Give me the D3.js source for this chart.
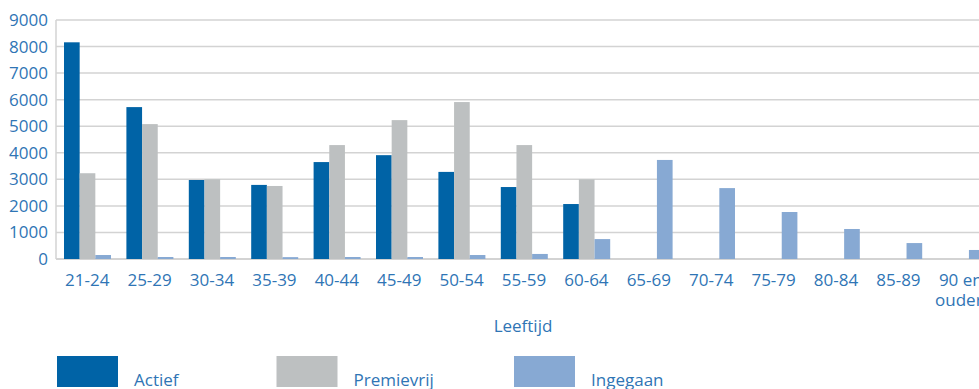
<!DOCTYPE html>
<html>
<head>
<meta charset="utf-8">
<script src="https://cdn.jsdelivr.net/npm/d3@7"></script>
<style>
 body { margin: 0; background: #fff; }
 text { font-family: "Open Sans", "Noto Sans", sans-serif; fill: #2f75b5; }
</style>
</head>
<body>
<svg width="979" height="389"></svg>
<script>
var svg = d3.select("svg"),
 width = +svg.attr("width"),
 height = +svg.attr("height");

// Data
var categories = ["21-24", "25-29", "30-34", "35-39", "40-44", "45-49", "50-54", "55-59",
 "60-64", "65-69", "70-74", "75-79", "80-84", "85-89", "90 en ouder"];
var series = ["Actief", "Premievrij", "Ingegaan"];
var actief = [8160, 5720, 2975, 2790, 3650, 3910, 3280, 2710, 2070, 0, 0, 0, 0, 0, 0];
var premievrij = [3230, 5080, 3000, 2750, 4290, 5230, 5910, 4290, 3000, 0, 0, 0, 0, 0, 0];
var ingegaan = [150, 75, 75, 70, 75, 75, 150, 190, 750, 3730, 2670, 1770, 1130, 600, 340];
var yTicks = [0, 1000, 2000, 3000, 4000, 5000, 6000, 7000, 8000, 9000];
var values = [actief, premievrij, ingegaan];

var colors = ["#0063a6", "#bdc0c1", "#87a9d3"];

var plotLeft = 56, plotTop = 20, plotBottom = 259;

// 15 bands, the last one runs past the right edge like in the reference
var x = d3.scaleBand()
 .domain(categories)
 .range([plotLeft, plotLeft + 15 * 62.4])
 .padding(0);

var x1 = d3.scaleBand()
 .domain(series)
 .range([8, 8 + 47])
 .padding(0);

var y = d3.scaleLinear()
 .domain([0, 9000])
 .range([plotBottom, plotTop]);

var color = d3.scaleOrdinal().domain(series).range(colors);

// grid lines
svg.append("g").selectAll("line")
 .data(yTicks)
 .enter().append("line")
 .attr("x1", plotLeft)
 .attr("x2", width)
 .attr("y1", function(d) { return y(d); })
 .attr("y2", function(d) { return y(d); })
 .attr("stroke", "#d3d3d3")
 .attr("stroke-width", function(d) { return d == 0 ? 2 : 1.5; });

svg.append("line")
 .attr("x1", plotLeft).attr("x2", plotLeft)
 .attr("y1", y(9000)).attr("y2", y(0))
 .attr("stroke", "#d3d3d3")
 .attr("stroke-width", 1.5);

// bars
var groups = svg.append("g").selectAll("g")
 .data(categories)
 .enter().append("g")
 .attr("transform", function(d) { return "translate(" + x(d) + ",0)"; });

groups.selectAll("rect")
 .data(function(d, i) {
   return series.map(function(s, j) { return { key: s, value: values[j][i] }; });
 })
 .enter().append("rect")
 .filter(function(d) { return d.value > 0; })
 .attr("x", function(d) { return x1(d.key); })
 .attr("width", x1.bandwidth())
 .attr("y", function(d) { return y(d.value); })
 .attr("height", function(d) { return y(0) - y(d.value); })
 .attr("fill", function(d) { return color(d.key); });

// y axis labels
var yAxis = svg.append("g")
 .attr("transform", "translate(" + (plotLeft - 8) + ",0)")
 .call(d3.axisLeft(y).tickValues(yTicks).tickSize(0).tickPadding(0).tickFormat(d3.format("d")));
yAxis.select(".domain").remove();
yAxis.selectAll("text")
 .attr("font-size", 17)
 .attr("fill", null);
yAxis.attr("font-family", null).attr("font-size", null);

// x axis labels (wrapped after the first two words)
var xAxis = svg.append("g")
 .attr("transform", "translate(0," + plotBottom + ")")
 .call(d3.axisBottom(x).tickSize(0).tickPadding(0).tickFormat(""));
xAxis.select(".domain").remove();
xAxis.attr("font-family", null).attr("font-size", null);
xAxis.selectAll(".tick").append("text")
 .attr("font-size", 17)
 .attr("text-anchor", "middle")
 .each(function(d) {
   var words = d.split(" ");
   var lines = words.length > 2 ? [words.slice(0, 2).join(" "), words.slice(2).join(" ")] : [d];
   var t = d3.select(this);
   lines.forEach(function(l, i) {
     t.append("tspan").attr("x", i ? -2 : 0).attr("y", 27 + i * 20).text(l);
   });
 });

svg.append("text")
 .attr("x", 523)
 .attr("y", 332)
 .attr("text-anchor", "middle")
 .attr("font-size", 17)
 .text("Leeftijd");

// legend
var lx = d3.scalePoint().domain(series).range([57, 514]).align(0);
var legend = svg.append("g").selectAll("g")
 .data(series)
 .enter().append("g")
 .attr("transform", function(d, i) { return "translate(" + (lx(d) - (i == 1 ? 9 : 0)) + ",356)"; });

legend.append("rect")
 .attr("width", 61)
 .attr("height", 31)
 .attr("fill", function(d) { return color(d); });

legend.append("text")
 .attr("x", 77)
 .attr("y", 30)
 .attr("font-size", 17)
 .text(function(d) { return d; });
</script>
</body>
</html>
